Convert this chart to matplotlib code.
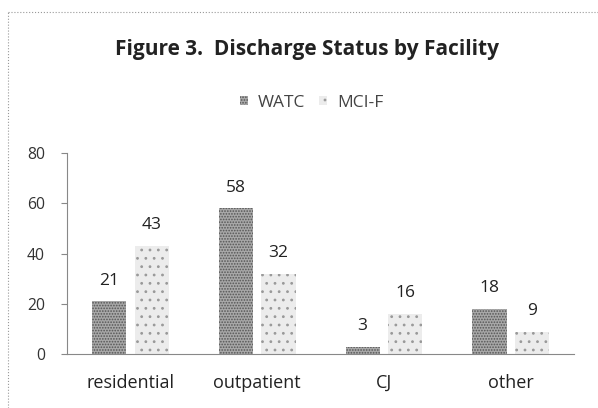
import matplotlib
matplotlib.use("Agg")
import matplotlib.pyplot as plt
import numpy as np

# =========================
# DATA
# =========================
categories = ["residential", "outpatient", "CJ", "other"]
watc = [21, 58, 3, 18]
mcif = [43, 32, 16, 9]
series_names = ["WATC", "MCI-F"]

plt.rcParams['font.family'] = ['Open Sans', 'DejaVu Sans']
plt.rcParams['hatch.linewidth'] = 0.8
plt.rcParams['hatch.color'] = '#555555'

fig = plt.figure(figsize=(5.98, 4.08), dpi=100)
ax = fig.add_axes([0.112, 0.132, 0.848, 0.493])

x = np.arange(len(categories))
w = 0.27
off = 0.168

b1 = ax.bar(x - off, watc, w, color='#a8a8a8', hatch='......', edgecolor='#555555',
            linewidth=0, label=series_names[0])
b2 = ax.bar(x + off, mcif, w, color='#ececec', hatch='..', edgecolor='#999999',
            linewidth=0, label=series_names[1])

# value labels
for bars, vals in [(b1, watc), (b2, mcif)]:
    for b, v in zip(bars, vals):
        ax.text(b.get_x() + b.get_width() / 2, v + 6.6, str(v),
                ha='center', va='baseline', fontsize=12.5, color='#222222')

ax.set_ylim(0, 80)
ax.set_xlim(-0.5, len(categories) - 0.5)
ax.set_yticks([0, 20, 40, 60, 80])
ax.set_xticks(x)
ax.set_xticklabels(categories)
ax.tick_params(axis='y', labelsize=11.3, colors='#333333', length=4, color='#888888', pad=12)
ax.tick_params(axis='x', labelsize=13, colors='#222222', length=0, pad=14)

for s in ['top', 'right']:
    ax.spines[s].set_visible(False)
ax.spines['left'].set_color('#888888')
ax.spines['bottom'].set_color('#888888')

# title and legend
fig.text(0.513, 0.865, "Figure 3.  Discharge Status by Facility", ha='center', va='baseline',
         fontsize=15, fontweight='bold', color='#222222')
fig.legend(handles=[b1, b2], loc='center', bbox_to_anchor=(0.521, 0.748), ncol=2,
           frameon=False, fontsize=12.5, handlelength=0.45, handleheight=0.45,
           columnspacing=0.85, handletextpad=0.55, labelcolor='#444444')

# dotted outer frame (top and left edges only, as in the scan)
fig.add_artist(plt.Line2D([0.013, 1.0], [0.97, 0.97], transform=fig.transFigure,
                          color='#999999', linestyle=':', linewidth=0.8))
fig.add_artist(plt.Line2D([0.013, 0.013], [0.0, 0.97], transform=fig.transFigure,
                          color='#999999', linestyle=':', linewidth=0.8))

plt.savefig("out.png", dpi=100)
